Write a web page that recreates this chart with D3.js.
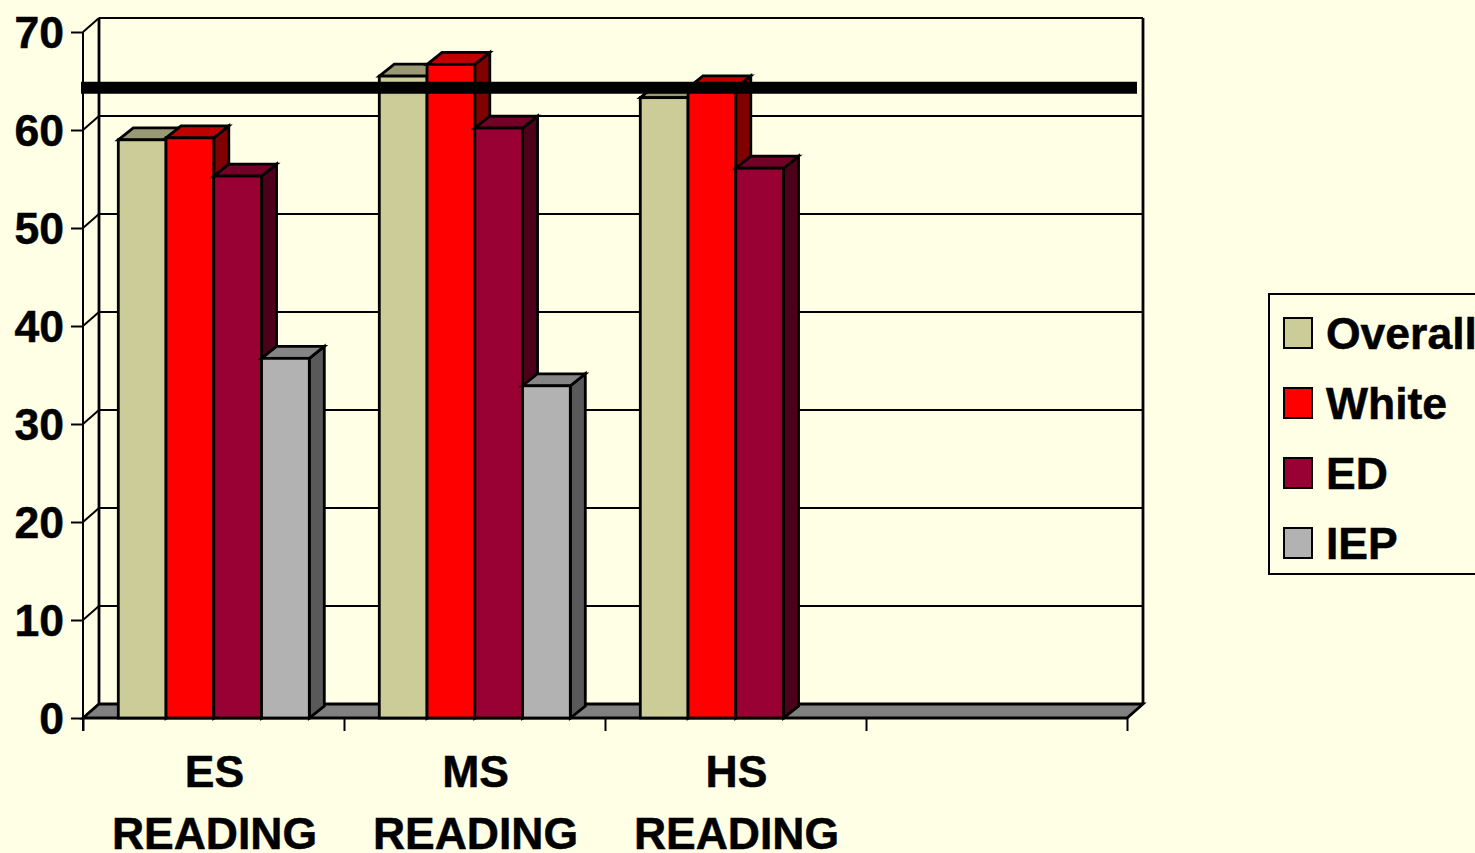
<!DOCTYPE html>
<html><head><meta charset="utf-8">
<script src="https://cdn.jsdelivr.net/npm/d3@7/dist/d3.min.js"></script>
<style>
html,body{margin:0;padding:0;background:#FFFFE5;overflow:hidden}
svg{display:block}
text{font-family:"Liberation Sans",Arial,sans-serif;font-weight:bold;font-size:44.5px;fill:#000;stroke:#000;stroke-width:0.5px;font-kerning:none}
</style></head><body>
<svg id="c" width="1475" height="853"></svg>
<script>
const categories = ["ES READING","MS READING","HS READING",""];
const categoryLines = [["ES","READING"],["MS","READING"],["HS","READING"],[]];
const seriesNames = ["Overall","White","ED","IEP"];
const overall = [59.0,65.5,63.3,null];
const white = [59.2,66.7,64.3,null];
const ed = [55.3,60.2,56.1,null];
const iep = [36.7,33.9,null,null];
const yTicks = [0,10,20,30,40,50,60,70];
const targetValue = 64.3;
const frontColors = ["#CCCC99","#FF0000","#990033","#B2B2B2"];
const topColors = ["#999973","#BF0000","#730026","#858585"];
const sideColors = ["#808066","#800000","#4D0019","#595959"];
const seriesValues = [overall,white,ed,iep];

const svg = d3.select("#c");
const wallDx = 16, wallDy = -14, dx = 15, dy = -12, lw = 2.8;
const x = d3.scaleBand().domain(categories).range([83,1127]);
const s = d3.scaleBand().domain(seriesNames).range([0,191]);
const y = d3.scaleLinear().domain([0,70]).range([718,32]);
const barOffset = 35.3;
const x0 = x.range()[0], x1 = x.range()[1];
const pts = a => a.map(p=>p.join(",")).join(" ");

// back wall + left wall
const wall = svg.append("g");
yTicks.forEach(t=>{
  wall.append("line").attr("x1",x0).attr("y1",y(t)).attr("x2",x0+wallDx).attr("y2",y(t)+wallDy).attr("stroke","#000").attr("stroke-width",2);
  wall.append("line").attr("x1",x0+wallDx).attr("y1",y(t)+wallDy).attr("x2",x1+wallDx).attr("y2",y(t)+wallDy).attr("stroke","#000").attr("stroke-width",2);
});
wall.append("line").attr("x1",x0+wallDx).attr("x2",x0+wallDx).attr("y1",y(70)+wallDy).attr("y2",y(0)+wallDy).attr("stroke","#000").attr("stroke-width",lw);
wall.append("line").attr("x1",x1+wallDx).attr("x2",x1+wallDx).attr("y1",y(70)+wallDy).attr("y2",y(0)+wallDy).attr("stroke","#000").attr("stroke-width",lw);

// floor
svg.append("polygon")
  .attr("points",pts([[x0,y(0)],[x0+wallDx,y(0)+wallDy],[x1+wallDx,y(0)+wallDy],[x1,y(0)]]))
  .attr("fill","#808080").attr("stroke","#000").attr("stroke-width",lw).attr("stroke-linejoin","miter");

// bars
const bars = svg.append("g").attr("stroke","#000").attr("stroke-width",lw).attr("stroke-linejoin","miter");
categories.forEach((c,ci)=>{
  seriesNames.forEach((n,si)=>{
    const v = seriesValues[si][ci];
    if(v==null) return;
    const l = x(c)+barOffset+s(n), r = l+s.bandwidth(), t = y(v), b = y(0);
    bars.append("polygon").attr("fill",sideColors[si]).attr("points",pts([[r,t],[r+dx,t+dy],[r+dx,b+dy],[r,b]]));
    bars.append("polygon").attr("fill",topColors[si]).attr("points",pts([[l,t],[l+dx,t+dy],[r+dx,t+dy],[r,t]]));
    bars.append("rect").attr("fill",frontColors[si]).attr("x",l).attr("y",t).attr("width",r-l).attr("height",b-t);
  });
});

// y axis
const yAxis = d3.axisLeft(y).tickValues(yTicks).tickSize(12).tickPadding(7).tickFormat(d3.format("d"));
const gy = svg.append("g").attr("transform",`translate(${x0},0)`).call(yAxis);
gy.selectAll("line").attr("stroke","#000").attr("stroke-width",2);
gy.select(".domain").remove();
gy.selectAll("text").attr("font-family",null).attr("dy","0.35em");
svg.append("line").attr("x1",x0).attr("x2",x0).attr("y1",y(70)).attr("y2",y(0)+13).attr("stroke","#000").attr("stroke-width",2);

// x axis ticks at category boundaries
const boundaries = categories.map(c=>x(c)).concat([x1]);
const xTick = d3.scaleLinear().domain([x0,x1]).range([x0,x1]);
const gx = svg.append("g").attr("transform",`translate(0,${y(0)})`)
  .call(d3.axisBottom(xTick).tickValues(boundaries).tickSize(13).tickFormat(""));
gx.selectAll("line").attr("stroke","#000").attr("stroke-width",2);
gx.select(".domain").attr("stroke","#000").attr("stroke-width",2).attr("d",`M${x0},0H${x1}`);

// category labels
categories.forEach((c,i)=>{
  categoryLines[i].forEach((t,j)=>{
    svg.append("text").attr("x",x(c)+x.bandwidth()/2+1).attr("y",787+j*62).attr("text-anchor","middle").text(t);
  });
});

// target line
svg.append("line").attr("x1",x0-2).attr("x2",x1+10).attr("y1",y(targetValue)).attr("y2",y(targetValue)).attr("stroke","#000").attr("stroke-width",12);

// legend
svg.append("rect").attr("x",1269).attr("y",294).attr("width",240).attr("height",280).attr("fill","#FFFFE5").attr("stroke","#000").attr("stroke-width",2);
seriesNames.forEach((n,i)=>{
  svg.append("rect").attr("x",1284).attr("y",318+i*70).attr("width",28).attr("height",30).attr("fill",frontColors[i]).attr("stroke","#000").attr("stroke-width",2);
  svg.append("text").attr("x",1326).attr("y",349+i*70).text(n);
});
</script>
</body></html>
